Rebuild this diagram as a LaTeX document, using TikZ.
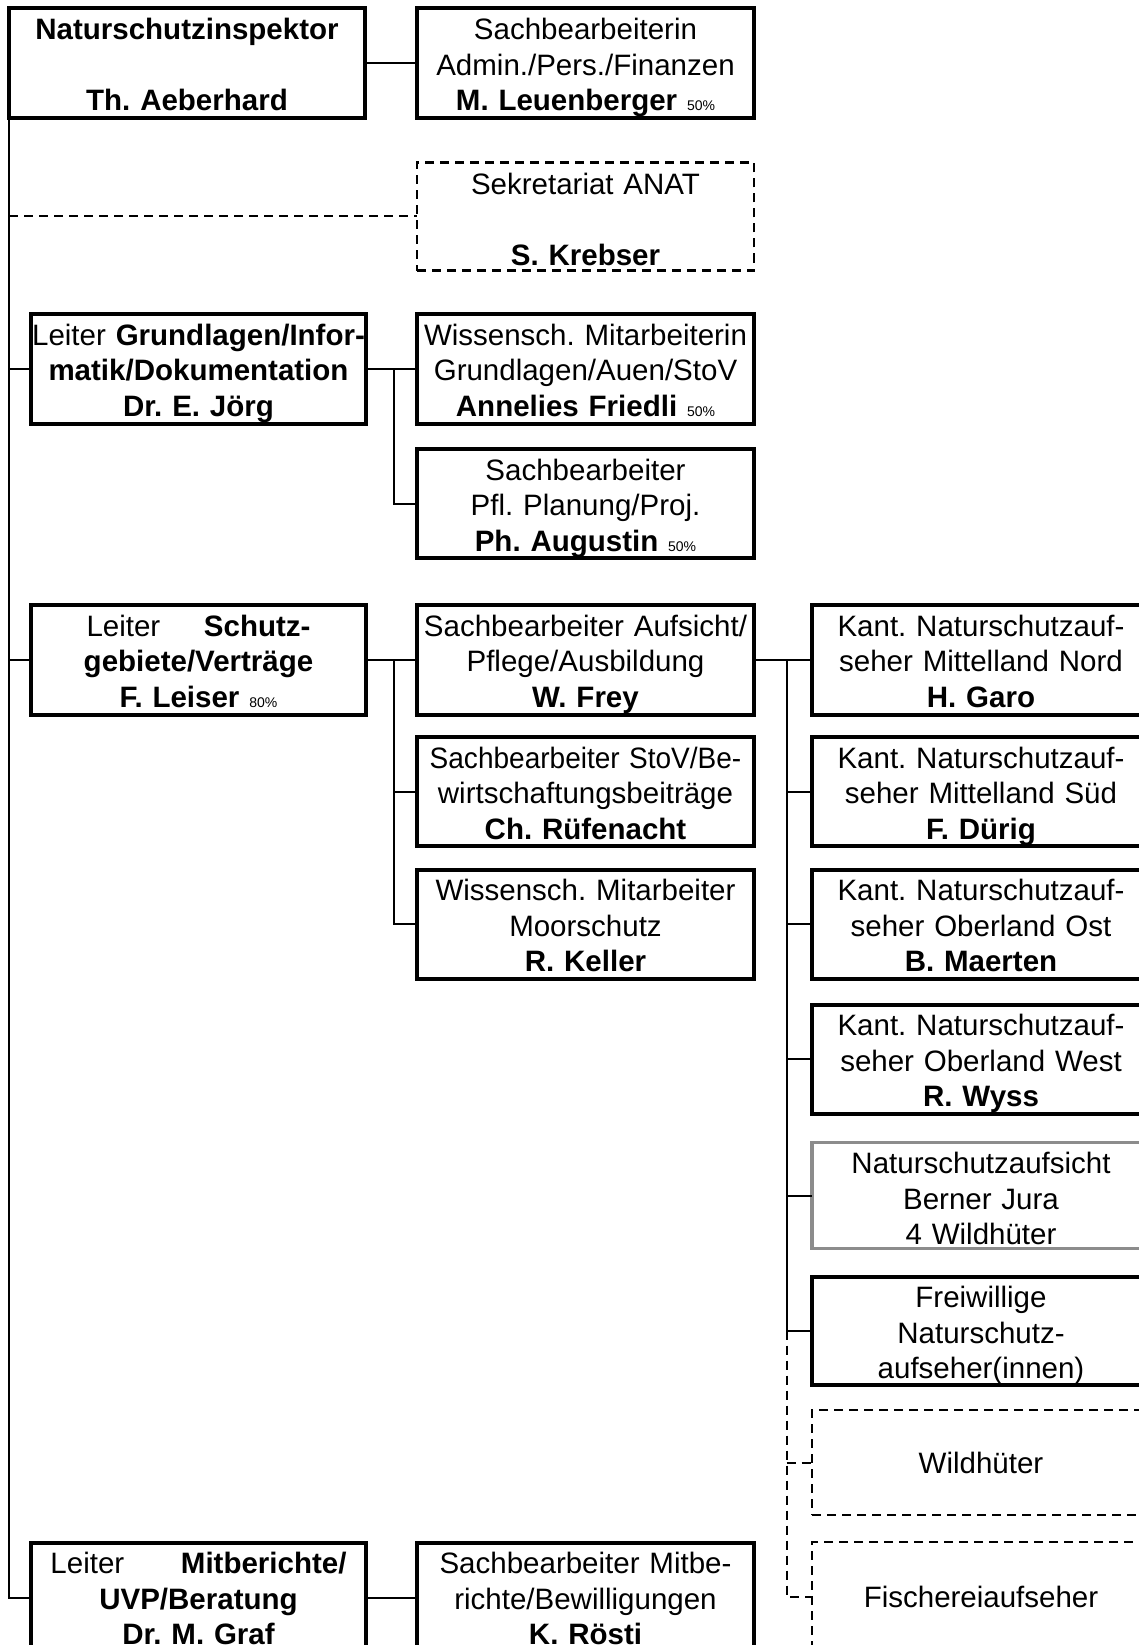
\documentclass[tikz,border=0pt]{standalone}
\usepackage{fontspec}
\setmainfont{Liberation Sans}
\usepackage{graphicx}
\newcommand{\pctfont}{\fontsize{14}{14}\selectfont}
\begin{document}
\frenchspacing
\begin{tikzpicture}[x=1pt,y=-1pt,
  box/.style={draw, line width=4pt, anchor=north west, inner sep=0pt, outer sep=0pt, minimum height=110pt},
  lbox/.style={box, minimum width=335pt},
  mbox/.style={box, minimum width=337pt},
  rbox/.style={box, minimum width=338pt},
  dashedbox/.style={line width=2.2pt, dash pattern=on 9pt off 6pt},
  graybox/.style={draw=black!45, line width=3.5pt},
  txt/.style={anchor=base, text width=345pt, align=center, inner sep=0pt, outer sep=0pt, font=\fontsize{29.5}{35.7}\selectfont\frenchspacing},
  conn/.style={line width=2pt},
  dconn/.style={line width=2pt, dash pattern=on 9pt off 6pt}]
\useasboundingbox (0,0) rectangle (1139,1645);
\fill[white] (0,0) rectangle (1139,1645);
\clip (0,0) rectangle (1139,1645);

% boxes
\node[box, minimum width=356pt] (insp) at (9,8.5) {};
\node[mbox] (adm) at (417,8.5) {};
\node[mbox, dashedbox, minimum height=108pt] (sek) at (417,162.5) {};
\node[lbox] (grund) at (31,314) {};
\node[mbox] (fried) at (417,314) {};
\node[mbox, minimum height=109pt] (aug) at (417,449) {};
\node[lbox] (leis) at (31,605) {};
\node[mbox] (frey) at (417,605) {};
\node[mbox, minimum height=109pt] (rufe) at (417,737) {};
\node[mbox, minimum height=109pt] (keller) at (417,869.5) {};
\node[rbox] (garo) at (812,605) {};
\node[rbox, minimum height=109pt] (durig) at (812,737) {};
\node[rbox, minimum height=109pt] (maerten) at (812,869.5) {};
\node[rbox, minimum height=109pt] (wyss) at (812,1004.5) {};
\node[rbox, graybox, minimum height=106pt] (jura) at (812,1142.5) {};
\node[rbox, minimum height=108pt] (frei) at (812,1276.5) {};
\node[rbox, dashedbox, minimum height=105pt] (wild) at (812,1410) {};
\node[rbox, dashedbox] (fisch) at (812,1542) {};
\node[lbox] (graf) at (31,1542.5) {};
\node[mbox] (rosti) at (417,1542.5) {};

% texts
\node[txt] (t-insp) at ([yshift=-31pt]insp.north) {\textbf{Naturschutzinspektor}\\\mbox{}\\\textbf{Th. Aeberhard}};
\node[txt] (t-adm) at ([yshift=-31pt]adm.north) {Sachbearbeiterin\\Admin./Pers./Finanzen\\\textbf{M. Leuenberger} {\pctfont 50\%}};
\node[txt] (t-sek) at ([yshift=-32pt]sek.north) {Sekretariat ANAT\\\mbox{}\\\textbf{S. Krebser}};
\node[txt] (t-grund) at ([yshift=-31pt]grund.north) {Leiter \textbf{Grundlagen/Infor-}\\\textbf{matik/Dokumentation}\\\textbf{Dr. E. Jörg}};
\node[txt] (t-fried) at ([yshift=-31pt]fried.north) {Wissensch. Mitarbeiterin\\Grundlagen/Auen/StoV\\\textbf{Annelies Friedli} {\pctfont 50\%}};
\node[txt] (t-aug) at ([yshift=-31pt]aug.north) {Sachbearbeiter\\Pfl. Planung/Proj.\\\textbf{Ph. Augustin} {\pctfont 50\%}};
\node[txt] (t-leis) at ([yshift=-31pt]leis.north) {\makebox[224pt]{Leiter\hfill\textbf{Schutz-}}\\\textbf{gebiete/Verträge}\\\textbf{F. Leiser} {\pctfont 80\%}};
\node[txt] (t-frey) at ([yshift=-31pt]frey.north) {Sachbearbeiter Aufsicht/\\Pflege/Ausbildung\\\textbf{W. Frey}};
\node[txt] (t-rufe) at ([yshift=-31pt]rufe.north) {\scalebox{0.95}[1]{Sachbearbeiter StoV/Be-}\\wirtschaftungsbeiträge\\\textbf{Ch. Rüfenacht}};
\node[txt] (t-keller) at ([yshift=-31pt]keller.north) {Wissensch. Mitarbeiter\\Moorschutz\\\textbf{R. Keller}};
\node[txt] (t-garo) at ([yshift=-31pt]garo.north) {Kant. Naturschutzauf-\\seher Mittelland Nord\\\textbf{H. Garo}};
\node[txt] (t-durig) at ([yshift=-31pt]durig.north) {Kant. Naturschutzauf-\\seher Mittelland Süd\\\textbf{F. Dürig}};
\node[txt] (t-maerten) at ([yshift=-31pt]maerten.north) {Kant. Naturschutzauf-\\seher Oberland Ost\\\textbf{B. Maerten}};
\node[txt] (t-wyss) at ([yshift=-31pt]wyss.north) {Kant. Naturschutzauf-\\seher Oberland West\\\textbf{R. Wyss}};
\node[txt] (t-jura) at ([yshift=-31pt]jura.north) {Naturschutzaufsicht\\Berner Jura\\4 Wildhüter};
\node[txt] (t-frei) at ([yshift=-31pt]frei.north) {Freiwillige\\Naturschutz-\\aufseher(innen)};
\node[txt] (t-wild) at ([yshift=-10.5pt]wild.center) {Wildhüter};
\node[txt] (t-fisch) at ([yshift=-10.5pt]fisch.center) {Fischereiaufseher};
\node[txt] (t-graf) at ([yshift=-31pt]graf.north) {\makebox[296pt]{Leiter\hfill\textbf{Mitberichte/}}\\\textbf{UVP/Beratung}\\\textbf{Dr. M. Graf}};
\node[txt] (t-rosti) at ([yshift=-31pt]rosti.north) {Sachbearbeiter Mitbe-\\richte/Bewilligungen\\\textbf{K. Rösti}};

% trunk
\draw[conn] (insp.east) -- (adm.west);
\draw[conn] (insp.south west) |- (graf.west);
\draw[dconn] (insp.south west |- sek.west) -- (sek.west);
\draw[conn] (insp.south west |- grund.west) -- (grund.west);
\draw[conn] (insp.south west |- leis.west) -- (leis.west);
\draw[conn] (graf.east) -- (rosti.west);

% Grundlagen group
\coordinate (j1) at (394.3,0);
\draw[conn] (grund.east) -- (fried.west);
\draw[conn] (j1 |- grund.east) |- (aug.west);

% Schutzgebiete group
\draw[conn] (leis.east) -- (frey.west);
\draw[conn] (j1 |- leis.east) |- (keller.west);
\draw[conn] (j1 |- rufe.west) -- (rufe.west);

% Aufsicht group
\coordinate (j3) at (786.5,0);
\draw[conn] (frey.east) -- (garo.west);
\draw[conn] (j3 |- garo.west) |- (frei.west);
\draw[conn] (j3 |- durig.west) -- (durig.west);
\draw[conn] (j3 |- maerten.west) -- (maerten.west);
\draw[conn] (j3 |- wyss.west) -- (wyss.west);
\draw[conn] (j3 |- jura.west) -- (jura.west);
\draw[dconn] (j3 |- frei.west) |- (fisch.west);
\draw[dconn] (j3 |- wild.west) -- (wild.west);
\end{tikzpicture}
\end{document}
